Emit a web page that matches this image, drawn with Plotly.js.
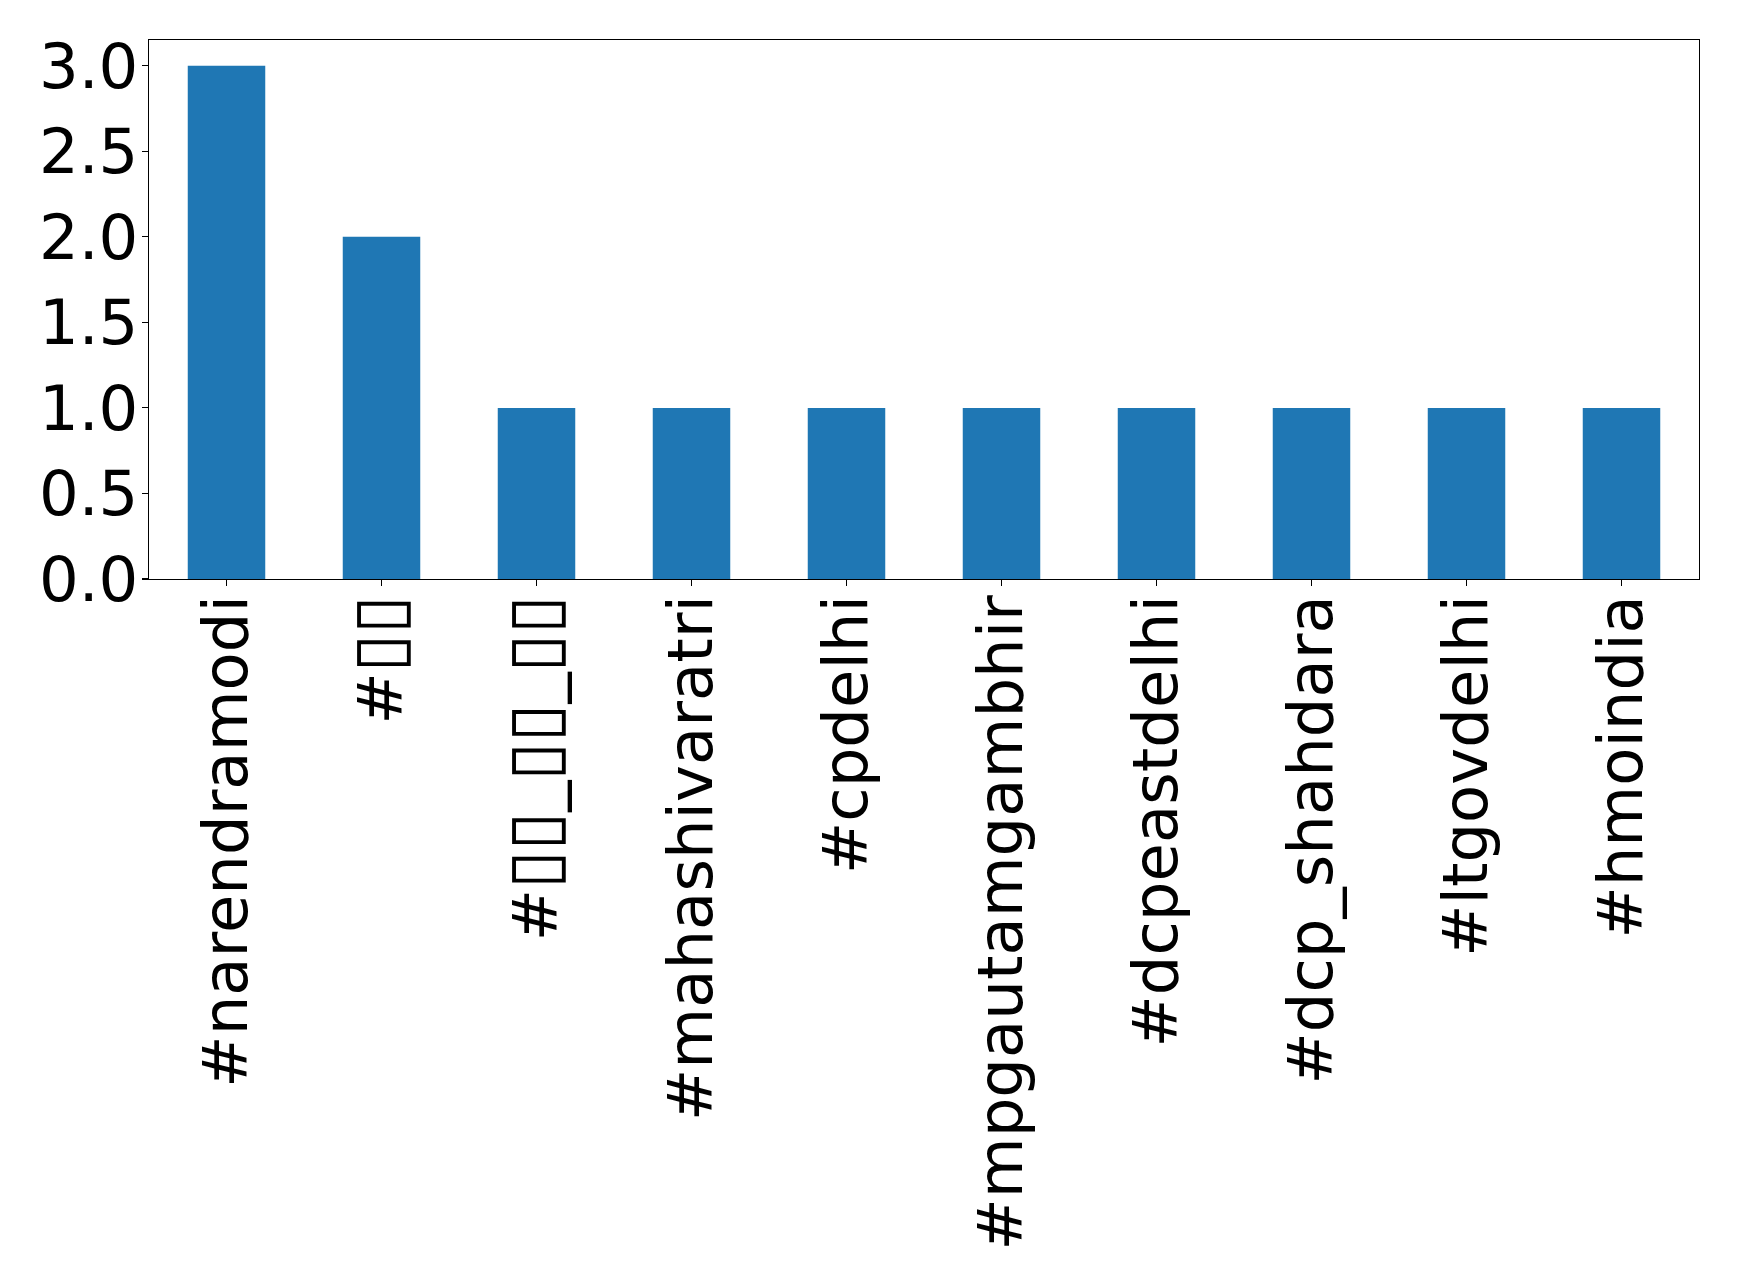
<!DOCTYPE html>
<html>
<head>
<meta charset="utf-8">
<script src="https://cdn.plot.ly/plotly-3.0.1.min.js"></script>
<style>html,body{margin:0;padding:0;background:#fff;}#chart{width:1739px;height:1283px;}</style>
</head>
<body>
<div id="chart"></div>
<script>
// Labels: glyphs not renderable in the original appear as missing-glyph boxes (▯)
const categories = ["#narendramodi", "#▯▯", "#▯▯_▯▯_▯▯", "#mahashivaratri", "#cpdelhi", "#mpgautamgambhir", "#dcpeastdelhi", "#dcp_shahdara", "#ltgovdelhi", "#hmoindia"];
const counts = [3, 2, 1, 1, 1, 1, 1, 1, 1, 1];
const yTicks = [0, 0.5, 1, 1.5, 2, 2.5, 3];

const font = {family: "DejaVu Sans", size: 62.5, color: "#000"};
// render the missing-glyph boxes slightly larger, as in the original
const tickText = categories.map(c => c.replace(/(▯+)/g, '<span style="font-size:70px">$1</span>'));

Plotly.newPlot("chart", [{
  type: "bar",
  x: categories.map((_, i) => i),
  y: counts,
  width: 0.5,
  marker: {color: "#1f77b4", line: {width: 0}},
  hoverinfo: "skip"
}], {
  width: 1739, height: 1283,
  margin: {l: 149, r: 40, t: 40, b: 704, pad: 0},
  paper_bgcolor: "#fff", plot_bgcolor: "#fff",
  showlegend: false,
  font: font,
  xaxis: {
    range: [-0.5, 9.5],
    tickmode: "array",
    tickvals: categories.map((_, i) => i),
    ticktext: tickText,
    tickangle: -90,
    ticks: "outside", ticklen: 6, tickwidth: 1.2, tickcolor: "#000",
    ticklabelstandoff: -16,
    showline: true, linecolor: "#000", linewidth: 1.2, mirror: true,
    showgrid: false, zeroline: false,
    tickfont: font
  },
  yaxis: {
    range: [0, 3.15],
    tickmode: "array",
    tickvals: yTicks,
    ticktext: yTicks.map(v => v.toFixed(1)),
    ticks: "outside", ticklen: 6, tickwidth: 1.2, tickcolor: "#000",
    ticklabelstandoff: -9,
    showline: true, linecolor: "#000", linewidth: 1.2, mirror: true,
    showgrid: false, zeroline: false,
    tickfont: font
  }
}, {staticPlot: true});
</script>
</body>
</html>
